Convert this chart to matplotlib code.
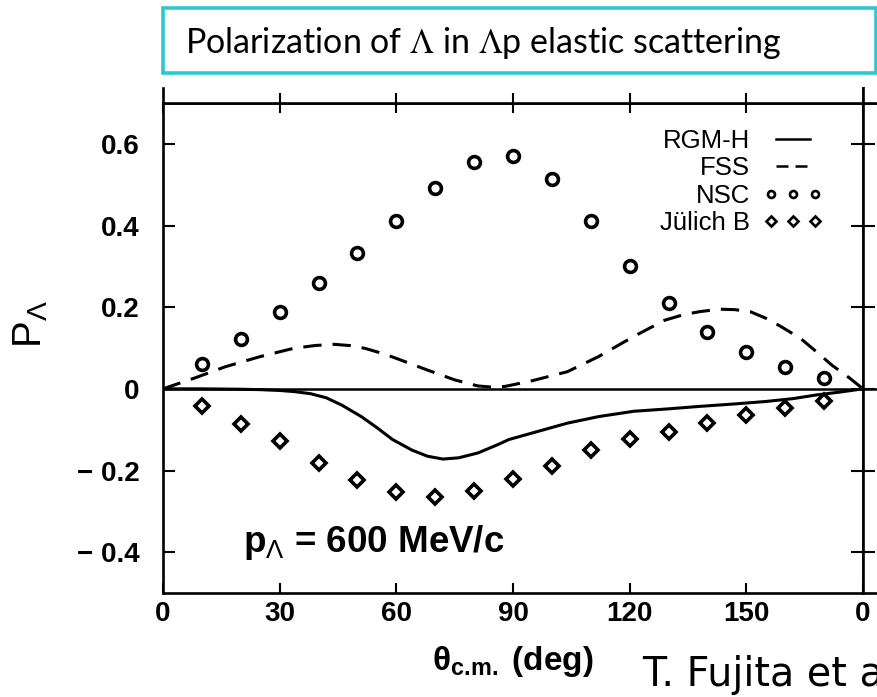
import matplotlib
matplotlib.use('Agg')
import matplotlib.pyplot as plt
from matplotlib.patches import Rectangle
from matplotlib.legend_handler import HandlerLine2D

W, H = 877, 697
plt.rcParams['font.family'] = ['Liberation Sans', 'DejaVu Sans']
plt.rcParams['mathtext.fontset'] = 'custom'
plt.rcParams['mathtext.rm'] = 'Liberation Sans'
plt.rcParams['mathtext.it'] = 'Liberation Sans:italic'
plt.rcParams['mathtext.bf'] = 'Liberation Sans:bold'

# ---------------- data ----------------
theta_pts = [10, 20, 30, 40, 50, 60, 70, 80, 90, 100, 110, 120, 130, 140, 150, 160, 170]
nsc = [0.061, 0.122, 0.189, 0.258, 0.332, 0.412, 0.492, 0.555, 0.570, 0.515,
       0.412, 0.302, 0.210, 0.140, 0.089, 0.053, 0.026]
julich = [-0.041, -0.086, -0.128, -0.181, -0.224, -0.253, -0.264, -0.249, -0.222, -0.188,
          -0.151, -0.124, -0.105, -0.084, -0.065, -0.047, -0.029]

rgm_theta = [0, 10, 20, 25, 30, 34, 38, 42, 46, 51, 55, 59, 64, 68, 72, 76, 81, 86, 89,
             95, 104, 112, 121, 130, 138, 147, 155, 162, 168, 174, 180]
rgm = [0.0, 0.0, -0.001, -0.002, -0.004, -0.007, -0.012, -0.022, -0.040, -0.068, -0.095,
       -0.124, -0.150, -0.165, -0.172, -0.169, -0.157, -0.137, -0.124,
       -0.108, -0.084, -0.068, -0.055, -0.049, -0.043, -0.037, -0.031, -0.024, -0.015, -0.008, 0.0]

fss_theta = [0, 8, 16, 25, 33.5, 39, 44, 48, 52, 57, 61, 68, 75, 81, 85, 88, 95, 104, 112,
             121, 129, 134, 138, 143, 147, 151, 155, 159, 164, 168, 172, 176.6, 180]
fss = [0.0, 0.026, 0.054, 0.079, 0.099, 0.106, 0.109, 0.106, 0.099, 0.085, 0.071, 0.046,
       0.022, 0.007, 0.004, 0.006, 0.020, 0.042, 0.079, 0.128, 0.168, 0.182, 0.189, 0.195,
       0.194, 0.189, 0.173, 0.152, 0.123, 0.091, 0.058, 0.026, 0.0]

xticks = [0, 30, 60, 90, 120, 150]
xtick_labels = ['0', '30', '60', '90', '120', '150']
yticks = [-0.4, -0.2, 0, 0.2, 0.4, 0.6]
ytick_labels = ['\u2212 0.4', '\u2212 0.2', '0', '0.2', '0.4', '0.6']
series_labels = ['RGM-H', 'FSS', 'NSC', 'J\u00fclich B']

# ---------------- figure ----------------
fig = plt.figure(figsize=(W / 100, H / 100), dpi=100)


def px_box(x0, y0, x1, y1):
    return [x0 / W, 1 - y1 / H, (x1 - x0) / W, (y1 - y0) / H]


SPW = 1.9
ax = fig.add_axes(px_box(163, 103, 863, 593))
axr = fig.add_axes(px_box(863, 103, 1563, 593))
axu = fig.add_axes(px_box(163, 88, 863, 103))
axur = fig.add_axes(px_box(863, 88, 1563, 103))

for a in (ax, axr):
    a.set_xlim(0, 180)
    a.set_ylim(-0.5, 0.7)
    a.axhline(0, color='black', lw=1.8, zorder=1)
    for s in a.spines.values():
        s.set_linewidth(SPW)
    a.tick_params(axis='x', direction='in', length=7.2, width=1.5, top=True)
    a.tick_params(axis='y', direction='in', length=8.6, width=1.5, right=True)

l_rgm, = ax.plot(rgm_theta, rgm, color='black', lw=2.2, label=series_labels[0], zorder=3)
l_fss, = ax.plot(fss_theta, fss, color='black', lw=2.2, ls=(0, (6, 3.6)),
                 label=series_labels[1], zorder=3)
l_nsc, = ax.plot(theta_pts, nsc, ls='none', marker='o', ms=8.5, mfc='white', mec='black',
                 mew=2.6, label=series_labels[2], zorder=4)
l_jul, = ax.plot(theta_pts, julich, ls='none', marker='D', ms=7.6, mfc='white', mec='black',
                 mew=2.6, label=series_labels[3], zorder=4)

ax.set_xticks(xticks, xtick_labels)
ax.set_yticks(yticks, ytick_labels)
ax.tick_params(axis='x', labelsize=20, pad=6)
ax.tick_params(axis='y', labelsize=20, pad=17)
for lab in ax.get_xticklabels() + ax.get_yticklabels():
    lab.set_fontweight('bold')

axr.set_xticks([0], ['0'])
axr.set_yticks(yticks, [''] * len(yticks))
axr.tick_params(axis='x', labelsize=20, pad=6)
for lab in axr.get_xticklabels():
    lab.set_fontweight('bold')

for a in (axu, axur):
    a.set_xlim(0, 180)
    a.set_ylim(0, 1)
    a.set_yticks([])
    a.spines['top'].set_visible(False)
    for s in a.spines.values():
        s.set_linewidth(SPW)
    a.set_xticks([30, 60, 90, 120, 150], [''] * 5)
    a.tick_params(axis='x', direction='in', length=7.2, width=1.5)

ax.set_xlabel(r'$\mathbf{\theta}_{\mathbf{c.\!m.}}$ (deg)', fontsize=24, fontweight='bold', labelpad=12)
ax.set_ylabel(r'P$_{\Lambda}$', fontsize=29)
ax.yaxis.set_label_coords((50 - 163) / 700, (593 - 324) / 490)

ax.text(20.6, -0.40, r'p$_{\Lambda}$ = 600 MeV/c', fontsize=26.5, fontweight='bold', va='baseline')

mk_handler = HandlerLine2D(marker_pad=0.12, numpoints=3)
leg = ax.legend(handles=[l_rgm, l_fss, l_nsc, l_jul],
                loc='upper right', bbox_to_anchor=((818 - 163) / 700, (593 - 129) / 490),
                frameon=False, markerfirst=False, numpoints=3, handlelength=1.95,
                handletextpad=0.7, labelspacing=0.13, borderpad=0, borderaxespad=0,
                fontsize=18.5, handler_map={l_nsc: mk_handler, l_jul: mk_handler})
for h in leg.legend_handles:
    if h.get_marker() not in (None, 'None', '', ' '):
        h.set_markersize(5.0)
        h.set_markeredgewidth(1.9)
leg.legend_handles[1].set_linestyle((0, (4.8, 2.8)))
leg.legend_handles[1].set_linewidth(1.8)
leg.legend_handles[0].set_linewidth(1.8)

# title box of the slide
fig.patches.append(Rectangle((163 / W, 1 - 73 / H), (876 - 163) / W, 65 / H,
                             transform=fig.transFigure, fill=False,
                             edgecolor='#2EC7D1', lw=2.6))
fig.text(185 / W, 1 - 43 / H, r'Polarization of $\Lambda$ in $\Lambda$p elastic scattering',
         fontsize=24.5, family='Lato', va='center', math_fontfamily='stix')
fig.text(642 / W, 1 - 686 / H, 'T. Fujita et al.', fontsize=28.5, family='DejaVu Sans',
         va='baseline')

fig.savefig('out.png', dpi=100)
